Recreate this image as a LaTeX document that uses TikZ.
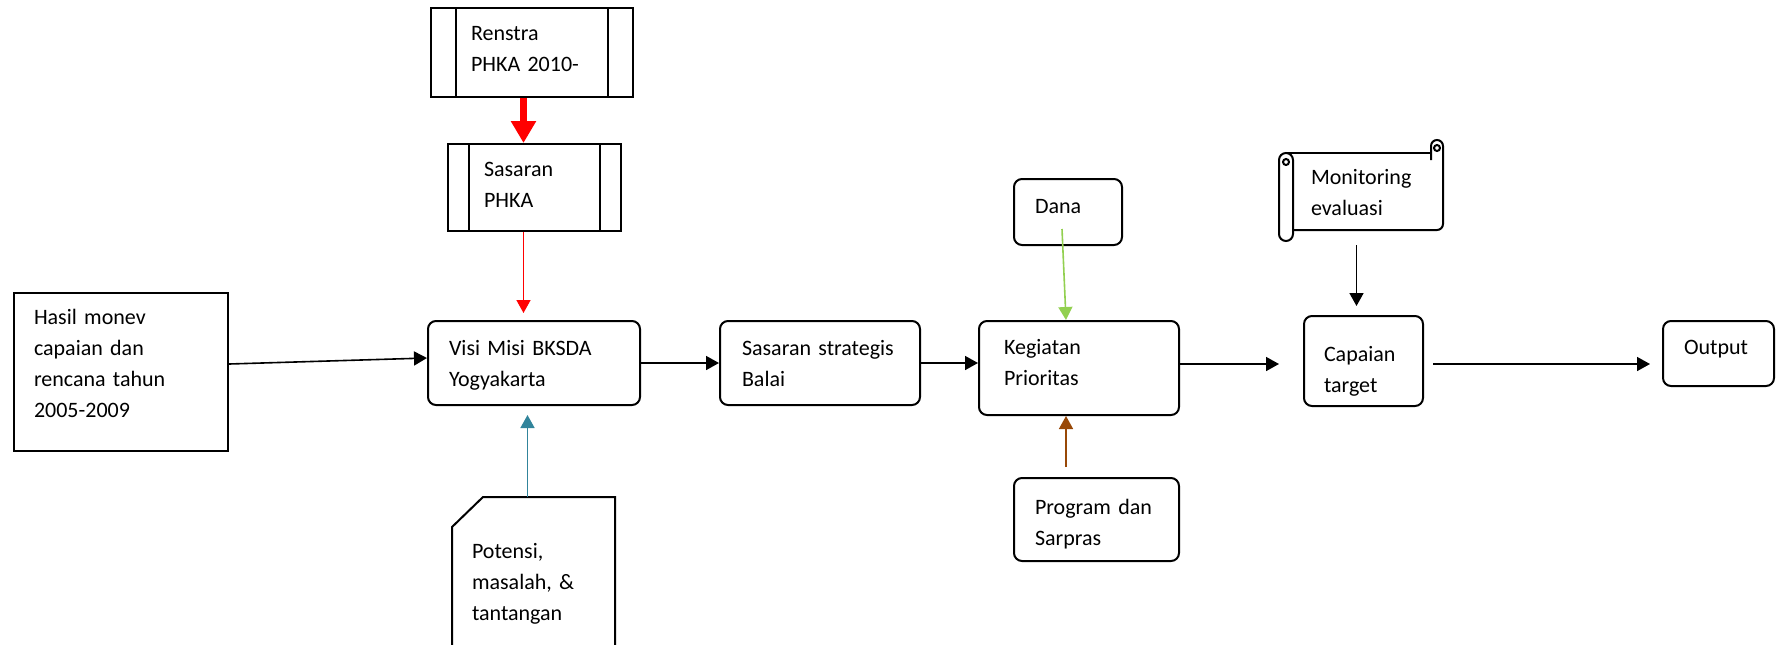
\documentclass[tikz,border=0pt]{standalone}
\usepackage{fontspec}
\setmainfont{Carlito}
\usetikzlibrary{arrows.meta}

\definecolor{danagreen}{HTML}{92D050}
\definecolor{potensiblue}{HTML}{31849B}
\definecolor{sarprasbrown}{HTML}{984807}

\tikzset{
  box/.style={draw, line width=1pt, anchor=north west, inner ysep=0pt, align=left,
    font=\fontsize{11pt}{15.5pt}\selectfont},
  rbox/.style={box, rounded corners=4pt},
  subproc/.style={box, path picture={
      \draw[line width=1pt]
        ([xshift=#1]path picture bounding box.north west) -- ([xshift=#1]path picture bounding box.south west)
        ([xshift=-#1]path picture bounding box.north east) -- ([xshift=-#1]path picture bounding box.south east);}},
  arr/.style={-{Triangle[length=6.5pt,width=7pt]}, line width=0.8pt},
  bigarr/.style={-{Triangle[length=11pt,width=12pt]}, line width=3.5pt, red},
}

\begin{document}
\begin{tikzpicture}[x=0.5pt, y=-0.5pt]
\useasboundingbox (0,0) rectangle (1783,644);

% input from previous period
\node[box, inner xsep=10pt, text width=87pt, text height=15.5pt, text depth=63.5pt] (hasil) at (13,292)
  {Hasil monev\\capaian dan\\rencana tahun\\2005-2009};

% renstra and sasaran PHKA
\node[subproc=12.5pt, inner xsep=20pt, text width=61pt, text height=16pt, text depth=28.5pt] (renstra) at (430,7)
  {Renstra\\PHKA 2010-};
\node[subproc=10.5pt, inner xsep=18pt, text width=50.5pt, text height=16pt, text depth=27.5pt] (sasphka) at (447,143)
  {Sasaran\\PHKA};

% main chain
\node[rbox, inner xsep=10.5pt, text width=85pt, text height=17pt, text depth=25pt] (visi) at (427,320)
  {Visi Misi BKSDA\\Yogyakarta};
\node[rbox, inner xsep=11pt, text width=78pt, text height=17pt, text depth=25pt] (sasstrat) at (719,320)
  {Sasaran strategis\\Balai};
\node[rbox, inner xsep=12.5pt, text width=75pt, text height=16.5pt, text depth=30.5pt] (kegiatan) at (978,320)
  {Kegiatan\\Prioritas};
\node[rbox, inner xsep=10pt, text width=39.5pt, text height=22.5pt, text depth=22.5pt] (capaian) at (1303,315)
  {Capaian\\target};
\node[rbox, inner xsep=10.5pt, text width=34.5pt, text height=16.5pt, text depth=16pt] (output) at (1662,320)
  {Output};

% resources
\node[rbox, inner xsep=10.5pt, text width=33pt, text height=17pt, text depth=16pt] (dana) at (1013,178)
  {Dana};
\node[rbox, inner xsep=10.5pt, text width=61.5pt, text height=18pt, text depth=23.5pt] (program) at (1013,477)
  {Program dan\\Sarpras};

% monitoring scroll
\node[box, draw=none, inner xsep=8.5pt, text width=58pt, text height=15pt, text depth=23.5pt] (mon) at (1293,153)
  {Monitoring\\evaluasi};
\draw[line width=1pt] (1286,153) -- (1431,153);
\draw[line width=1pt] (1431,160) -- (1431,146) arc (180:360:6) -- (1443,224) arc (0:90:6) -- (1293,230);
\draw[line width=1pt] (1437,148) circle (3);
\draw[line width=1pt] (1293,234) -- (1293,160) arc (360:180:7) -- (1279,234) arc (180:0:7);
\draw[line width=1pt] (1286,162) circle (3);

% potensi document
\node[box, draw=none, inner xsep=9.5pt, text width=61.5pt, text height=30pt, text depth=55pt] (potensi) at (452,497)
  {Potensi,\\masalah, \&\\tantangan};
\draw[line width=1pt] ([xshift=15.5pt]potensi.north west) -- (potensi.north east) -- (potensi.south east)
  -- (potensi.south west) -- ([yshift=-15pt]potensi.north west) -- cycle;

% helper points
\coordinate (rin) at ([xshift=-5.5pt]sasphka.south);
\coordinate (bin) at ([xshift=-3pt]potensi.north);
\coordinate (kin) at ([xshift=-6.5pt]kegiatan.south);
\coordinate (kup) at ([xshift=-6.5pt]kegiatan.north);
\coordinate (cin) at ([xshift=-3.5pt]capaian.north);

% arrows into visi
\draw[bigarr] (rin |- renstra.south) -- (rin |- sasphka.north);
\draw[arr, red, shorten >=3.5pt] (rin) -- (rin |- visi.north);
\draw[arr, potensiblue, shorten >=4.5pt] (bin) -- (bin |- visi.south);
\draw[arr] ([yshift=4pt]hasil.east) -- ([yshift=2.5pt]visi.west);

% main flow
\draw[arr] (visi.east) -- (sasstrat.west);
\draw[arr] (sasstrat.east) -- (sasstrat.east -| kegiatan.west);
\draw[arr, shorten >=12pt] ([yshift=2pt]kegiatan.east) -- ([yshift=2pt]kegiatan.east -| capaian.west);
\draw[arr, shorten <=4.5pt, shorten >=6pt] ([yshift=-1.5pt]capaian.east) -- ([yshift=-1.5pt]capaian.east -| output.west);

% resources and monitoring
\draw[arr, danagreen] ([xshift=-3pt,yshift=8.5pt]dana.south) -- (kup);
\draw[arr, sarprasbrown, shorten <=5pt] (kin |- program.north) -- (kin);
\draw[arr, shorten <=6.5pt, shorten >=4.5pt] (cin |- mon.south) -- (cin);

\end{tikzpicture}
\end{document}
